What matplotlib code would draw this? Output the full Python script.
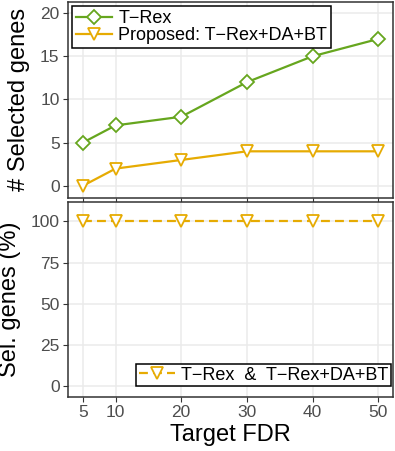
import matplotlib
matplotlib.use("Agg")
import matplotlib.pyplot as plt

plt.rcParams['font.family'] = ['Liberation Sans', 'DejaVu Sans']

# data
fdr = [5, 10, 20, 30, 40, 50]
trex = [5, 7, 8, 12, 15, 17]
proposed = [0, 2, 3, 4, 4, 4]
sel_pct = [100, 100, 100, 100, 100, 100]

green = '#66A61E'
yellow = '#E6AB02'
frame = '#333333'
grid = '#EBEBEB'

fig = plt.figure(figsize=(3.95, 4.51), dpi=100)
ax1 = fig.add_axes([0.172, 0.561, 0.823, 0.435])
ax2 = fig.add_axes([0.172, 0.120, 0.823, 0.432])

def style(ax):
    for s in ax.spines.values():
        s.set_color(frame)
        s.set_linewidth(1.1)
    ax.grid(True, color=grid, linewidth=1.1)
    ax.set_axisbelow(True)
    ax.tick_params(colors=frame, labelcolor='#4D4D4D', labelsize=12.5,
                   length=3.5, width=0.8, pad=2.5)
    ax.set_xlim(2.75, 52.25)
    ax.set_xticks(fdr)

# top panel
style(ax1)
ax1.plot(fdr, trex, color=green, lw=1.6, marker='D', ms=7.5, mfc='white',
         mew=1.3, label='T\u2212Rex')
ax1.plot(fdr, proposed, color=yellow, lw=1.6, marker='v', ms=9, mfc='white',
         mew=1.3, label='Proposed: T\u2212Rex+DA+BT')
ax1.set_ylim(-1.4, 21.3)
ax1.set_yticks([0, 5, 10, 15, 20])
ax1.tick_params(labelbottom=False)
ax1.set_ylabel('# Selected genes', fontsize=17, labelpad=7)
leg = ax1.legend(loc='upper left', fontsize=13, fancybox=False, framealpha=1,
                 edgecolor='black', borderpad=0.2, labelspacing=0.0,
                 handlelength=2.0, handletextpad=0.35,
                 bbox_to_anchor=(0.0, 1.0), borderaxespad=0.25)
leg.get_frame().set_linewidth(1.1)

# bottom panel
style(ax2)
ax2.plot(fdr, sel_pct, color=yellow, lw=1.6, ls=(0, (4, 2.3)), marker='v',
         ms=9, mfc='white', mew=1.3, label='T\u2212Rex  &  T\u2212Rex+DA+BT')
ax2.set_ylim(-6.7, 111.8)
ax2.set_yticks([0, 25, 50, 75, 100])
ax2.set_ylabel('Sel. genes (%)', fontsize=17, labelpad=7)
ax2.set_xlabel('Target FDR', fontsize=17, labelpad=3)
leg2 = ax2.legend(loc='lower right', fontsize=13, fancybox=False, framealpha=1,
                  edgecolor='black', borderpad=0.15, handlelength=2.0,
                  handletextpad=0.35, bbox_to_anchor=(1.0, 0.045),
                  borderaxespad=0.1)
leg2.get_frame().set_linewidth(1.1)

fig.savefig('out.png', dpi=100)
